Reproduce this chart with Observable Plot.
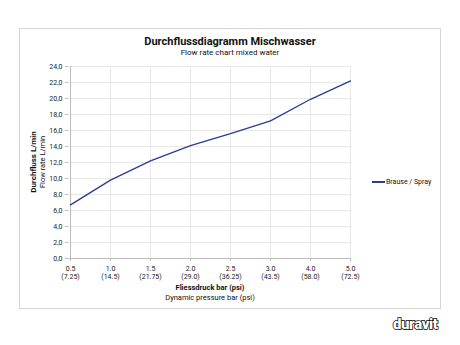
<!DOCTYPE html>
<html><head><meta charset="utf-8">
<script src="https://cdn.jsdelivr.net/npm/d3@7"></script>
<script src="https://cdn.jsdelivr.net/npm/@observablehq/plot@0.6"></script>
<style>
body{margin:0;background:#fff;font-family:Roboto,"DejaVu Sans",sans-serif;}
#wrap{position:relative;width:460px;height:345px;overflow:hidden;}
.frame{position:absolute;left:19px;top:28px;width:420px;height:279px;border:1.5px solid #d4d4d4;}
.t{position:absolute;white-space:nowrap;color:#111;}
#chart{position:absolute;left:0;top:0;}
</style></head><body>
<div id="wrap">
<div class="frame"></div>
<div id="chart"></div>
<div class="t" style="left:0;width:460px;text-align:center;top:35px;font-size:11px;font-weight:bold;">Durchflussdiagramm Mischwasser</div>
<div class="t" style="left:0;width:460px;text-align:center;top:48px;font-size:8px;">Flow rate chart mixed water</div>
<div class="t" style="left:0;width:420px;text-align:center;top:283px;font-size:7.5px;font-weight:bold;">Fliessdruck bar (psi)</div>
<div class="t" style="left:0;width:420px;text-align:center;top:293px;font-size:7.5px;">Dynamic pressure bar (psi)</div>
<div class="t" style="left:33px;top:162px;font-size:8px;font-weight:bold;transform:translate(-50%,-50%) rotate(-90deg);">Durchfluss L/min</div>
<div class="t" style="left:42px;top:162px;font-size:7.5px;transform:translate(-50%,-50%) rotate(-90deg);">Flow rate L/min</div>
<div class="t" style="left:372px;top:178px;font-size:7px;"><span style="display:inline-block;width:13px;height:1.5px;background:#2a3d8f;vertical-align:middle;margin-right:1px;"></span>Brause / Spray</div>
<div class="t" style="left:393px;top:315px;font-size:15px;font-weight:900;color:#fff;-webkit-text-stroke:1.5px #000;paint-order:stroke fill;letter-spacing:-0.4px;">duravit</div>
</div>
<script>
const pressureBar = ["0.5","1.0","1.5","2.0","2.5","3.0","4.0","5.0"];
const pressurePsi = ["(7.25)","(14.5)","(21.75)","(29.0)","(36.25)","(43.5)","(58.0)","(72.5)"];
const flowRate = [6.7, 9.8, 12.2, 14.1, 15.6, 17.2, 19.9, 22.2];
const yTicks = [0,2,4,6,8,10,12,14,16,18,20,22,24];

const data = pressureBar.map((p,i)=>({p, v: flowRate[i]}));
const psiOf = Object.fromEntries(pressureBar.map((p,i)=>[p, pressurePsi[i]]));
const fmt = d => d.toFixed(1).replace(".", ",");

const chart = Plot.plot({
  width: 460, height: 345,
  marginLeft: 68, marginRight: 109, marginTop: 66, marginBottom: 87,
  style: {fontFamily: "Roboto, 'DejaVu Sans', sans-serif", fontSize: "7px", color: "#222", background: "transparent"},
  x: {type: "point", domain: pressureBar, padding: 0, label: null},
  y: {domain: [0, 24], label: null},
  marks: [
    Plot.ruleX(pressureBar, {stroke: "#e8e8e8", strokeWidth: 1}),
    Plot.ruleY(yTicks.slice(1), {stroke: "#e8e8e8", strokeWidth: 1}),
    Plot.ruleX([pressureBar[0]], {stroke: "#bdbdbd", strokeWidth: 1}),
    Plot.ruleY([0], {stroke: "#bdbdbd", strokeWidth: 1}),
    Plot.axisY({ticks: yTicks, tickFormat: fmt, tickSize: 3, stroke: "#bdbdbd", tickPadding: 3, fill: "#222", label: null}),
    Plot.axisX({tickFormat: d => d + "\n" + psiOf[d], tickSize: 3, stroke: "#bdbdbd", tickPadding: 3, fill: "#222", label: null, lineHeight: 1.25}),
    Plot.line(data, {x: "p", y: "v", stroke: "#2a3d8f", strokeWidth: 1.3})
  ]
});
document.getElementById("chart").appendChild(chart);
</script>
</body></html>
